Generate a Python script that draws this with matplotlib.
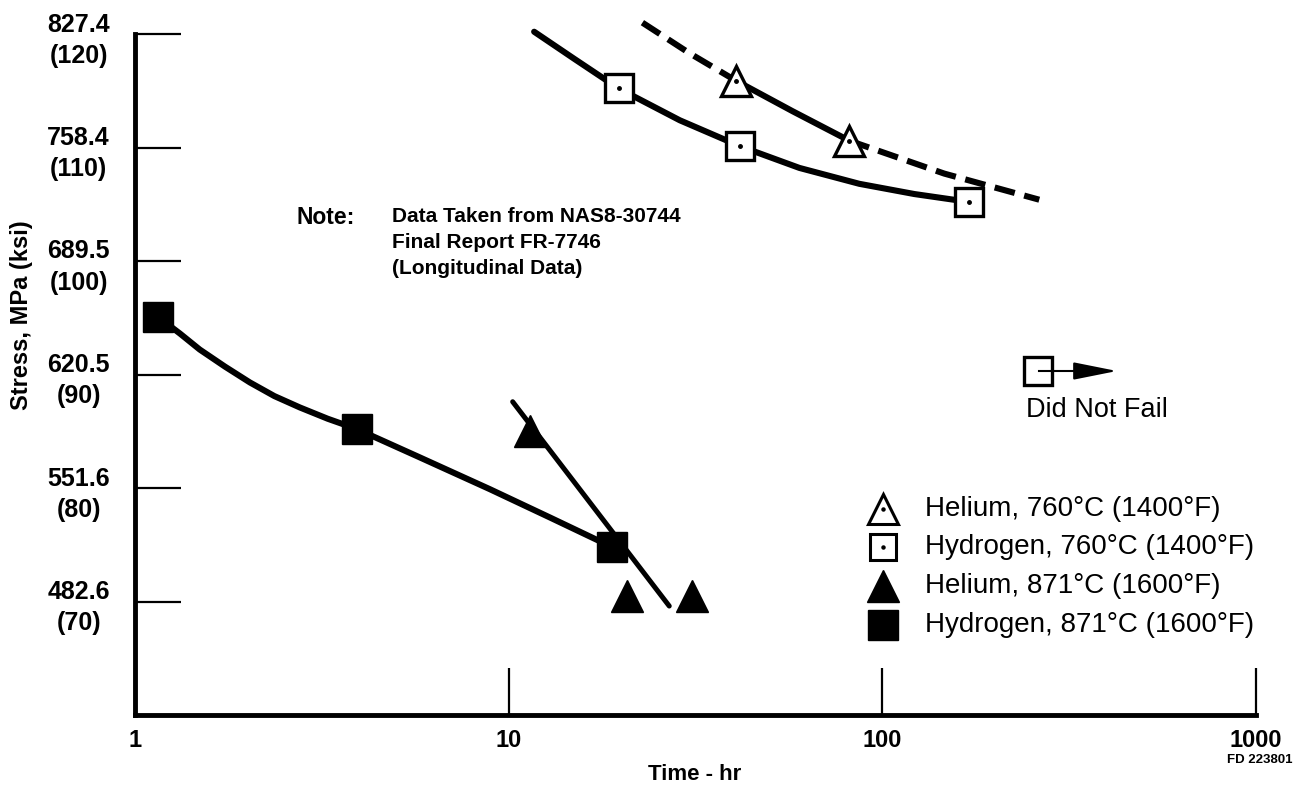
import matplotlib
matplotlib.use('Agg')
import matplotlib.pyplot as plt

plt.rcParams['font.family'] = ['Liberation Sans', 'DejaVu Sans']

# ---------------- data ----------------
# Hydrogen, 871 C (filled squares) and its fitted curve
h871_time = [1.15, 3.92, 18.9]
h871_stress = [95.1, 85.2, 74.8]
h871_curve_time = [1.15, 1.32, 1.49, 1.74, 2.03, 2.36, 2.76, 3.28, 3.92,
                   5.78, 8.90, 12.9, 18.9]
h871_curve_stress = [95.1, 93.6, 92.2, 90.7, 89.3, 88.1, 87.1, 86.1, 85.2,
                     82.7, 79.9, 77.4, 74.8]

# Helium, 871 C (filled triangles) and its fitted line
he871_time = [11.4, 20.7, 31.0]
he871_stress = [85.0, 70.5, 70.5]
he871_fit_time = [10.25, 26.9]
he871_fit_stress = [87.6, 69.6]

# Hydrogen, 760 C (open squares) and its fitted curve
h760_time = [19.7, 41.7, 171.0]
h760_stress = [115.2, 110.1, 105.2]
h760_curve_time = [11.7, 15.0, 19.7, 28.7, 41.7, 60.0, 86.8, 121.8, 171.0]
h760_curve_stress = [120.2, 117.8, 115.2, 112.4, 110.1, 108.2, 106.8, 105.9, 105.2]

# Helium, 760 C (open triangles) and its curve (dashed / solid / dashed)
he760_time = [40.5, 81.6]
he760_stress = [115.9, 110.6]
he760_dash1_time = [22.8, 30.5, 40.5]
he760_dash1_stress = [121.0, 118.3, 115.9]
he760_solid_time = [40.5, 57.5, 81.6]
he760_solid_stress = [115.9, 113.2, 110.6]
he760_dash2_time = [81.6, 146.5, 263.0]
he760_dash2_stress = [110.6, 107.7, 105.4]

ytick_ksi = [70, 80, 90, 100, 110, 120]
ytick_mpa = ['482.6', '551.6', '620.5', '689.5', '758.4', '827.4']
xtick_vals = [1, 10, 100, 1000]
xtick_labels = ['1', '10', '100', '1000']

legend_labels = ['Helium, 760°C (1400°F)', 'Hydrogen, 760°C (1400°F)',
                 'Helium, 871°C (1600°F)', 'Hydrogen, 871°C (1600°F)']

# ---------------- figure ----------------
W, H = 1312, 790
fig = plt.figure(figsize=(W / 100, H / 100), dpi=100)
ax = fig.add_axes([135 / W, 1 - 715 / H, (1256 - 135) / W, (715 - 34) / H])
ax.set_xscale('log')
ax.set_xlim(1, 1000)
ax.set_ylim(60, 120)

for s in ['top', 'right']:
    ax.spines[s].set_visible(False)
for s in ['left', 'bottom']:
    ax.spines[s].set_linewidth(3.5)
    ax.spines[s].set_capstyle('projecting')

ax.set_yticks(ytick_ksi)
ax.set_yticklabels([f'{m}\n({k})' for m, k in zip(ytick_mpa, ytick_ksi)])
ax.tick_params(axis='y', direction='in', length=33, width=1.6, pad=18,
               labelsize=18)
for lab in ax.get_yticklabels():
    lab.set_fontweight('bold')
    lab.set_multialignment('center')
    lab.set_linespacing(1.38)

ax.set_xticks(xtick_vals)
ax.set_xticklabels(xtick_labels)
ax.minorticks_off()
ax.tick_params(axis='x', direction='in', length=34, width=1.6, pad=10,
               labelsize=17)
for lab in ax.get_xticklabels():
    lab.set_fontweight('bold')

LW = 4.4
# Hydrogen 871
ax.plot(h871_curve_time, h871_curve_stress, color='black', lw=LW,
        solid_capstyle='round', solid_joinstyle='round', clip_on=False, zorder=3)
ax.plot(h871_time, h871_stress, linestyle='none', marker='s', ms=22,
        mfc='black', mec='black', clip_on=False, zorder=4)
# Helium 871
ax.plot(he871_fit_time, he871_fit_stress, color='black', lw=3.6,
        solid_capstyle='round', clip_on=False, zorder=3)
ax.plot(he871_time, he871_stress, linestyle='none', marker='^', ms=23,
        mfc='black', mec='black', clip_on=False, zorder=4)
# Hydrogen 760
ax.plot(h760_curve_time, h760_curve_stress, color='black', lw=LW,
        solid_capstyle='round', solid_joinstyle='round', clip_on=False, zorder=3)
ax.plot(h760_time, h760_stress, linestyle='none', marker='s', ms=20.5,
        mfc='white', mec='black', mew=2.4, clip_on=False, zorder=4)
ax.plot(h760_time, h760_stress, linestyle='none', marker='o', ms=2.5,
        mfc='black', mec='black', clip_on=False, zorder=5)
# Helium 760
dash = (0, (3.4, 1.6))
ax.plot(he760_dash1_time, he760_dash1_stress, color='black', lw=LW,
        linestyle=dash, clip_on=False, zorder=3)
ax.plot(he760_solid_time, he760_solid_stress, color='black', lw=LW,
        solid_joinstyle='round', clip_on=False, zorder=3)
ax.plot(he760_dash2_time, he760_dash2_stress, color='black', lw=LW,
        linestyle=dash, clip_on=False, zorder=3)
ax.plot(he760_time, he760_stress, linestyle='none', marker='^', ms=22,
        mfc='white', mec='black', mew=2.4, clip_on=False, zorder=4)
ax.plot(he760_time, he760_stress, linestyle='none', marker='o', ms=2.5,
        mfc='black', mec='black', clip_on=False, zorder=5)

# ---------------- legend (manual) ----------------
leg_styles = [dict(marker='^', ms=21, mfc='white', mec='black', mew=2.2),
              dict(marker='s', ms=19, mfc='white', mec='black', mew=2.2),
              dict(marker='^', ms=23, mfc='black', mec='black'),
              dict(marker='s', ms=22, mfc='black', mec='black')]
leg_y = [509, 547, 586, 625]
for lab, st, py in zip(legend_labels, leg_styles, leg_y):
    ya = (715 - py) / 681
    ax.plot([(883 - 135) / 1121], [ya], transform=ax.transAxes,
            linestyle='none', clip_on=False, zorder=5, **st)
    if st['mfc'] == 'white':
        ax.plot([(883 - 135) / 1121], [ya], transform=ax.transAxes,
                linestyle='none', marker='o', ms=2.2, mfc='black',
                mec='black', clip_on=False, zorder=6)
    ax.text((925 - 135) / 1121, ya, lab, transform=ax.transAxes,
            ha='left', va='center', fontsize=20)

# "Did Not Fail" key
sq_x, sq_y = (1038 - 135) / 1121, (715 - 371) / 681
ax.annotate('', xy=((1117 - 135) / 1121, sq_y), xytext=(sq_x, sq_y),
            xycoords='axes fraction', textcoords='axes fraction',
            arrowprops=dict(arrowstyle='-|>,head_length=1.5,head_width=0.3',
                            mutation_scale=18, lw=1.5, color='black',
                            shrinkA=0, shrinkB=0), zorder=4)
ax.plot([sq_x], [sq_y], transform=ax.transAxes, linestyle='none',
        marker='s', ms=20.5, mfc='white', mec='black', mew=2.4,
        clip_on=False, zorder=5)
ax.plot([sq_x + 0.001, sq_x + 0.012], [sq_y, sq_y], transform=ax.transAxes,
        color='black', lw=1.5, clip_on=False, zorder=6)
ax.text((1097 - 135) / 1121, (715 - 410) / 681, 'Did Not Fail',
        transform=ax.transAxes, ha='center', va='center', fontsize=19.5)

# ---------------- text ----------------
fig.text(297 / W, 1 - 217 / H, 'Note:', ha='left', va='center',
         fontsize=16.5, fontweight='bold')
fig.text(392 / W, 1 - 217 / H, 'Data Taken from NAS8-30744',
         ha='left', va='center', fontsize=15, fontweight='bold')
fig.text(392 / W, 1 - 242 / H, 'Final Report FR-7746',
         ha='left', va='center', fontsize=15, fontweight='bold')
fig.text(392 / W, 1 - 268 / H, '(Longitudinal Data)',
         ha='left', va='center', fontsize=15, fontweight='bold')

fig.text(22 / W, 1 - 315 / H, 'Stress, MPa (ksi)', rotation=90,
         ha='center', va='center', fontsize=17, fontweight='bold')
fig.text(695 / W, 1 - 775 / H, 'Time - hr', ha='center', va='center',
         fontsize=16, fontweight='bold')
fig.text(1260 / W, 1 - 760 / H, 'FD 223801', ha='center', va='center',
         fontsize=9.5, fontweight='bold')

fig.savefig('out.png', dpi=100)
